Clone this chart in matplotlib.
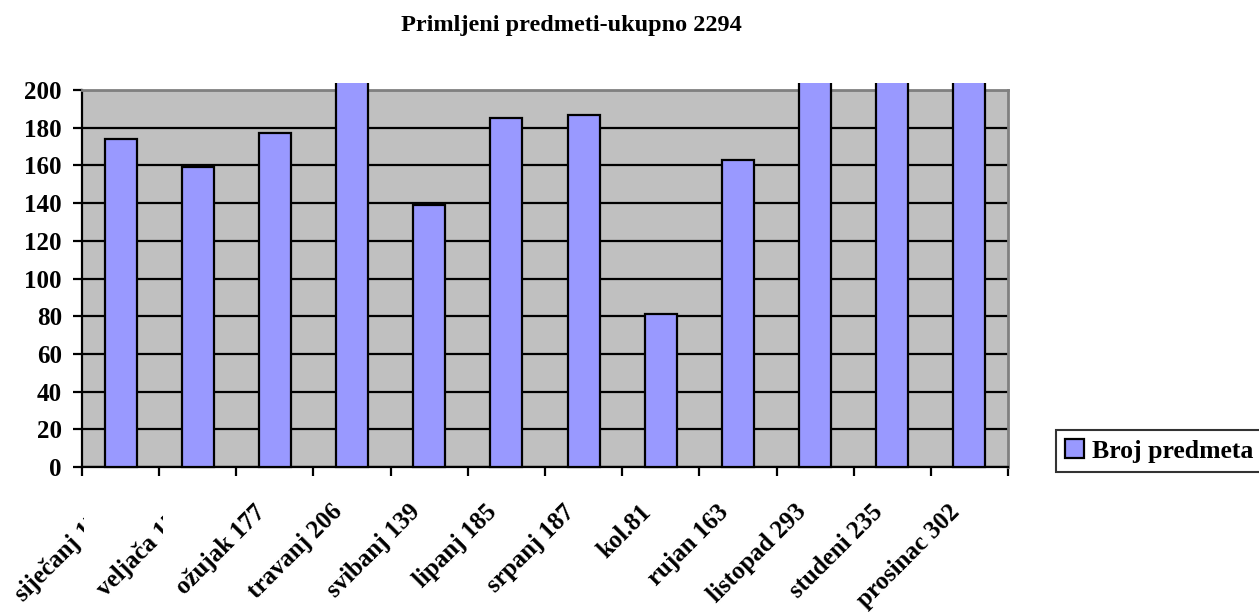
import matplotlib
matplotlib.use("Agg")
import matplotlib.pyplot as plt
import matplotlib.transforms as mtransforms
import numpy as np

months = ["siječanj", "veljača", "ožujak", "travanj", "svibanj", "lipanj",
          "srpanj", "kol.", "rujan", "listopad", "studeni", "prosinac"]
counts = [174, 159, 177, 206, 139, 185, 187, 81, 163, 293, 235, 302]
labels = ["siječanj 174", "veljača 159", "ožujak 177", "travanj 206", "svibanj 139",
          "lipanj 185", "srpanj 187", "kol.81", "rujan 163", "listopad 293",
          "studeni 235", "prosinac 302"]
title = "Primljeni predmeti-ukupno 2294"
series_name = "Broj predmeta"

plt.rcParams['font.family'] = ['Liberation Serif', 'DejaVu Serif']
plt.rcParams['font.weight'] = 'bold'

fig = plt.figure(figsize=(12.59, 6.12), dpi=100)
ax = fig.add_axes([82 / 1259, 1 - 467 / 612, (1008 - 82) / 1259, (467 - 90) / 612])
ax.set_facecolor('#C0C0C0')

x = np.arange(len(counts))
ax.set_xlim(-0.5, len(counts) - 0.5)
ax.set_ylim(0, 200)
ax.set_yticks(range(0, 201, 20))
ax.yaxis.grid(True, color='black', linewidth=1.6)
ax.set_axisbelow(True)

bars = ax.bar(x, counts, width=0.415, color='#9999FF', edgecolor='black',
              linewidth=1.6, zorder=3, label=series_name)

# let overflowing bars poke slightly above the plot area, like the original
bb = ax.get_position()
clip = mtransforms.Bbox.from_extents(bb.x0 * 1259, bb.y0 * 612 - 2,
                                     bb.x1 * 1259, bb.y1 * 612 + 7)
for b in bars:
    b.set_clip_box(clip)

for side in ['top', 'right']:
    ax.spines[side].set_color('#808080')
    ax.spines[side].set_linewidth(2)
for side in ['left', 'bottom']:
    ax.spines[side].set_color('black')
    ax.spines[side].set_linewidth(1.6)

ax.tick_params(axis='y', length=6.5, width=1.6, pad=8, labelsize=18)
ax.set_xticks(x)
ax.set_xticklabels(labels, rotation=45, ha='right', va='top',
                   rotation_mode='anchor', fontsize=18)
ax.tick_params(axis='x', which='major', length=0, pad=24)
ax.set_xticks(np.arange(-0.5, len(counts), 1.0), minor=True)
ax.tick_params(axis='x', which='minor', length=6.5, width=1.6, direction='out')

offset = mtransforms.ScaledTranslation(-21 / 100, 0, fig.dpi_scale_trans)
ticklabels = ax.get_xticklabels()
for lab in ticklabels:
    lab.set_transform(lab.get_transform() + offset)
# first two labels are cut off in the original
for lab, xmax in zip(ticklabels[:2], [84, 163]):
    lab.set_clip_box(mtransforms.Bbox.from_extents(0, 0, xmax, 612))
    lab.set_clip_on(True)

fig.text(571 / 1259, 1 - 25 / 612, title, ha='center', va='center',
         fontsize=17.5, fontweight='bold')

leg = fig.legend(handles=[bars], labels=[series_name + "    "], loc='center left',
                 bbox_to_anchor=(1056 / 1259, 1 - 451 / 612), fontsize=18.5,
                 frameon=True, fancybox=False, handlelength=0.75, handleheight=0.75,
                 handletextpad=0.3, borderpad=0.35, borderaxespad=0)
leg.get_frame().set_edgecolor('black')
leg.get_frame().set_linewidth(1.5)

fig.savefig('out.png', dpi=100)
